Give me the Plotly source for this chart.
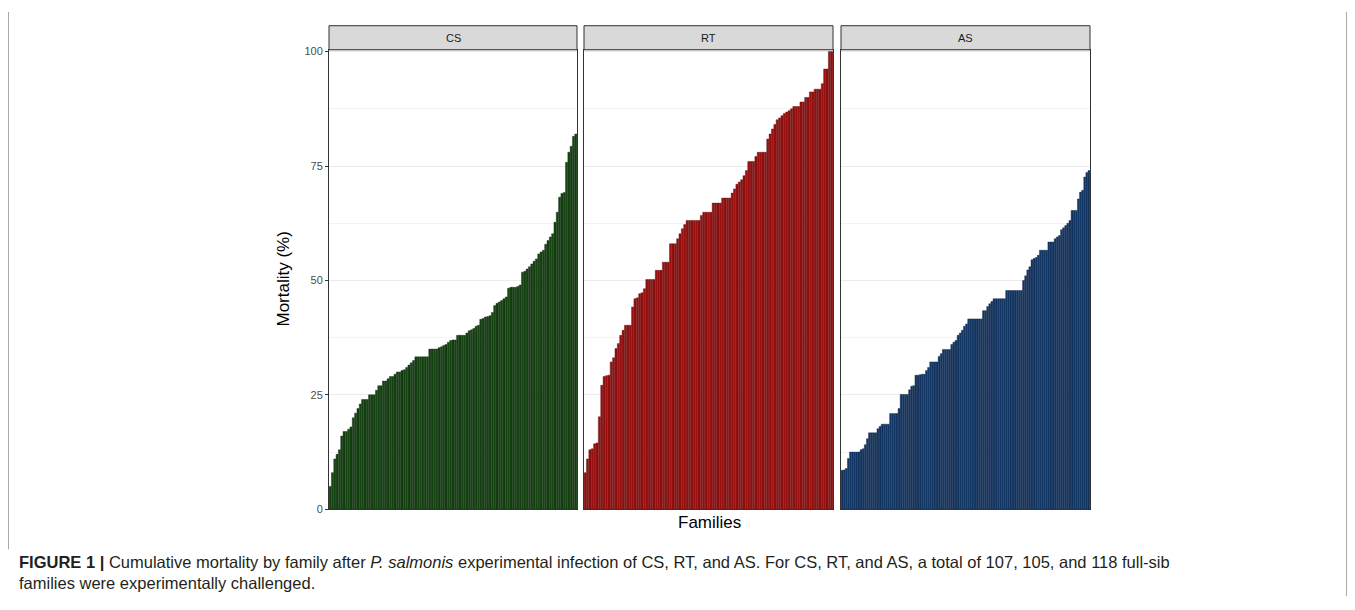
import plotly.graph_objects as go

# ---------------- data (sorted cumulative mortality per family, %) ----------------
panels = ["CS", "RT", "AS"]

cs_mortality = [5, 8, 11, 12, 13, 16, 17, 17, 17.5, 18, 20, 21, 22, 23, 24, 24, 24, 25, 25, 25,
                26, 27, 27, 28, 28, 28.5, 29, 29, 29.5, 30, 30, 30.3, 30.5, 31, 31.5, 32, 32.5,
                33.3, 33.3, 33.3, 33.3, 33.3, 33.3, 35, 35, 35, 35, 35.3, 35.5, 35.8, 36, 36.5,
                36.9, 37, 37, 38, 38, 38, 38, 38.5, 39, 39.2, 39.5, 40, 40.2, 41.5, 41.7, 42,
                42.1, 42.3, 43, 44.5, 45, 45.3, 45.6, 46, 46.4, 48.3, 48.5, 48.5, 48.5, 48.7, 49,
                51.8, 52, 52.5, 53, 53.6, 54.2, 54.7, 55.8, 56.2, 56.6, 57.9, 58.7, 59.5, 60.2,
                62.7, 64.9, 68.2, 69, 69.2, 75.8, 78, 79.3, 81.5, 82]

rt_mortality = [8, 11, 13, 13.2, 14.3, 14.5, 20.2, 27.1, 29, 29.2, 29.3, 32.2, 33.1, 35.1, 36.2,
                38, 39.1, 40.2, 40.2, 40.2, 44.2, 46, 46.2, 47.1, 47.3, 48.2, 50.2, 50.2, 50.2,
                50.2, 52.2, 52.2, 52.2, 54, 54, 54, 58, 58, 58, 59.1, 60.2, 61.3, 62.2, 63.1,
                63.1, 63.1, 63.1, 63.1, 63.1, 64.2, 64.9, 64.9, 64.9, 64.9, 66.9, 66.9, 66.9,
                66.9, 68, 68, 68, 68, 69.1, 70, 71, 71.5, 72, 72.9, 74, 76, 76, 76, 77.1, 78, 78,
                78, 78, 80.9, 82, 83.1, 84.1, 85.1, 85.5, 86, 86.5, 86.8, 87.1, 87.5, 88, 88, 88,
                89, 89, 90, 90, 91.2, 91.2, 91.8, 91.8, 91.8, 93, 96.2, 96.2, 100, 100]

as_mortality = [8.5, 8.6, 8.9, 11.1, 12.5, 12.5, 12.5, 12.5, 12.5, 13, 13.2, 14.1, 15.4, 16.7,
                16.7, 16.7, 16.7, 17.6, 18.1, 18.6, 18.6, 18.6, 18.6, 20.9, 20.9, 20.9, 20.9, 22,
                25.1, 25.1, 25.1, 25.1, 26.1, 26.9, 27, 29.3, 29.3, 29.4, 29.5, 29.5, 30.3, 31,
                32.2, 32.2, 32.2, 32.2, 33.4, 34, 34.9, 34.9, 34.9, 34.9, 36, 36.5, 36.9, 38,
                38.5, 39.1, 40, 40.5, 41.6, 41.6, 41.6, 41.6, 41.6, 41.6, 41.6, 43.4, 43.4, 44.3,
                44.9, 45.4, 46, 46, 46, 46, 46, 46, 47.8, 47.8, 47.8, 47.8, 47.8, 47.8, 47.8, 47.8,
                50, 51, 52.3, 53, 54.5, 54.8, 55, 55.5, 56.6, 56.6, 56.6, 56.6, 58.4, 58.4, 58.4,
                59.1, 59.5, 59.8, 61.1, 61.5, 62, 62.5, 63.1, 65.3, 65.3, 65.3, 67.8, 69.3, 69.7,
                72.6, 73.6, 74]

y_ticks = [0, 25, 50, 75, 100]
y_tick_labels = ["0", "25", "50", "75", "100"]

caption_bold = "FIGURE 1 |"
caption_rest = (" Cumulative mortality by family after <i>P. salmonis</i> experimental infection of CS, RT, "
                "and AS. For CS, RT, and AS, a total of 107, 105, and 118 full-sib<br>"
                "families were experimentally challenged.")

# ---------------- styling ----------------
# the page body has an 8px default margin on every side; size the figure so the page
# fits the 1355x610 window exactly
OFF = 8
W, H = 1355 - 2 * OFF, 610 - 2 * OFF
fills = ["#164512", "#9C1010", "#143A69"]
edges = ["#0B250A", "#5A0707", "#0A1F40"]
series = [cs_mortality, rt_mortality, as_mortality]

# panel extents in screen pixels
px_x = [(329, 577), (584, 833), (841, 1090)]
py_top, py_bot = 51, 509
strip_top = 27


def fx(p):
    return (p - OFF) / W


def fy(p):
    # empirical vertical correction observed in the rendered screenshots
    q = (p - 5.5) / 0.98
    return 1 - (q - OFF) / H


fig = go.Figure()
FONT = "Liberation Sans, Arial, sans-serif"

for i, (name, vals) in enumerate(zip(panels, series)):
    xs = list(range(1, len(vals) + 1))
    sfx = "" if i == 0 else str(i + 1)
    fig.add_trace(go.Bar(
        x=xs, y=vals, xaxis="x" + sfx, yaxis="y" + sfx,
        marker=dict(color=fills[i], line=dict(color=edges[i], width=0.4)),
        showlegend=False, hoverinfo="y",
    ))
    x0, x1 = px_x[i]
    fig.layout["xaxis" + sfx] = dict(
        domain=[fx(x0), fx(x1)], range=[0.5, len(vals) + 0.5],
        showticklabels=False, ticks="", showgrid=False, zeroline=False,
        showline=True, linecolor="#333333", linewidth=1, mirror=True,
        anchor="y" + sfx,
    )
    yax = dict(
        domain=[fy(py_bot), fy(py_top)], range=[0, 100.4],
        tickvals=y_ticks, ticktext=y_tick_labels,
        showgrid=True, gridcolor="#EBEBEB", gridwidth=1.1,
        minor=dict(showgrid=True, dtick=12.5, tick0=0, gridcolor="#F3F3F3", gridwidth=0.6),
        zeroline=False, showline=True, linecolor="#333333", linewidth=1, mirror=True,
        anchor="x" + sfx,
    )
    if i == 0:
        yax.update(ticks="outside", ticklen=3, tickcolor="#333333", tickwidth=1,
                   tickfont=dict(size=11, color="#4D4D4D", family=FONT))
    else:
        yax.update(showticklabels=False, ticks="", matches="y")
    fig.layout["yaxis" + sfx] = yax

    # facet strip
    fig.add_shape(type="rect", xref="paper", yref="paper",
                  x0=fx(x0), x1=fx(x1), y0=fy(py_top), y1=fy(strip_top),
                  fillcolor="#D9D9D9", line=dict(color="#333333", width=1), layer="above")
    fig.add_annotation(xref="paper", yref="paper", x=fx((x0 + x1) / 2), y=fy((py_top + strip_top) / 2),
                       text=name, showarrow=False, xanchor="center", yanchor="middle",
                       font=dict(size=11, color="#1A1A1A", family=FONT))

# axis titles
fig.add_annotation(xref="paper", yref="paper", x=fx(284), y=fy((py_top + py_bot) / 2),
                   text="Mortality (%)", textangle=-90, showarrow=False,
                   xanchor="center", yanchor="middle", font=dict(size=17, color="#000000", family=FONT))
fig.add_annotation(xref="paper", yref="paper", x=fx((329 + 1090) / 2), y=fy(522),
                   text="Families", showarrow=False, xanchor="center", yanchor="middle",
                   font=dict(size=17, color="#000000", family=FONT))

# caption
fig.add_annotation(xref="paper", yref="paper", x=fx(17), y=fy(551),
                   text="<b>" + caption_bold + "</b>" + caption_rest, showarrow=False,
                   xanchor="left", yanchor="top", align="left",
                   font=dict(size=16.5, color="#231F20", family=FONT))

# figure frame lines
fig.add_shape(type="line", xref="paper", yref="paper", x0=fx(8.5), x1=fx(8.5), y0=1, y1=fy(549),
              line=dict(color="#AAAAAA", width=1))
fig.add_shape(type="line", xref="paper", yref="paper", x0=fx(1346.5), x1=fx(1346.5), y0=1, y1=0,
              line=dict(color="#AAAAAA", width=1))

fig.update_layout(
    width=W, height=H, margin=dict(l=0, r=0, t=0, b=0),
    paper_bgcolor="white", plot_bgcolor="white",
    bargap=0.1, font=dict(family=FONT),
)

fig.write_html("out.html")
